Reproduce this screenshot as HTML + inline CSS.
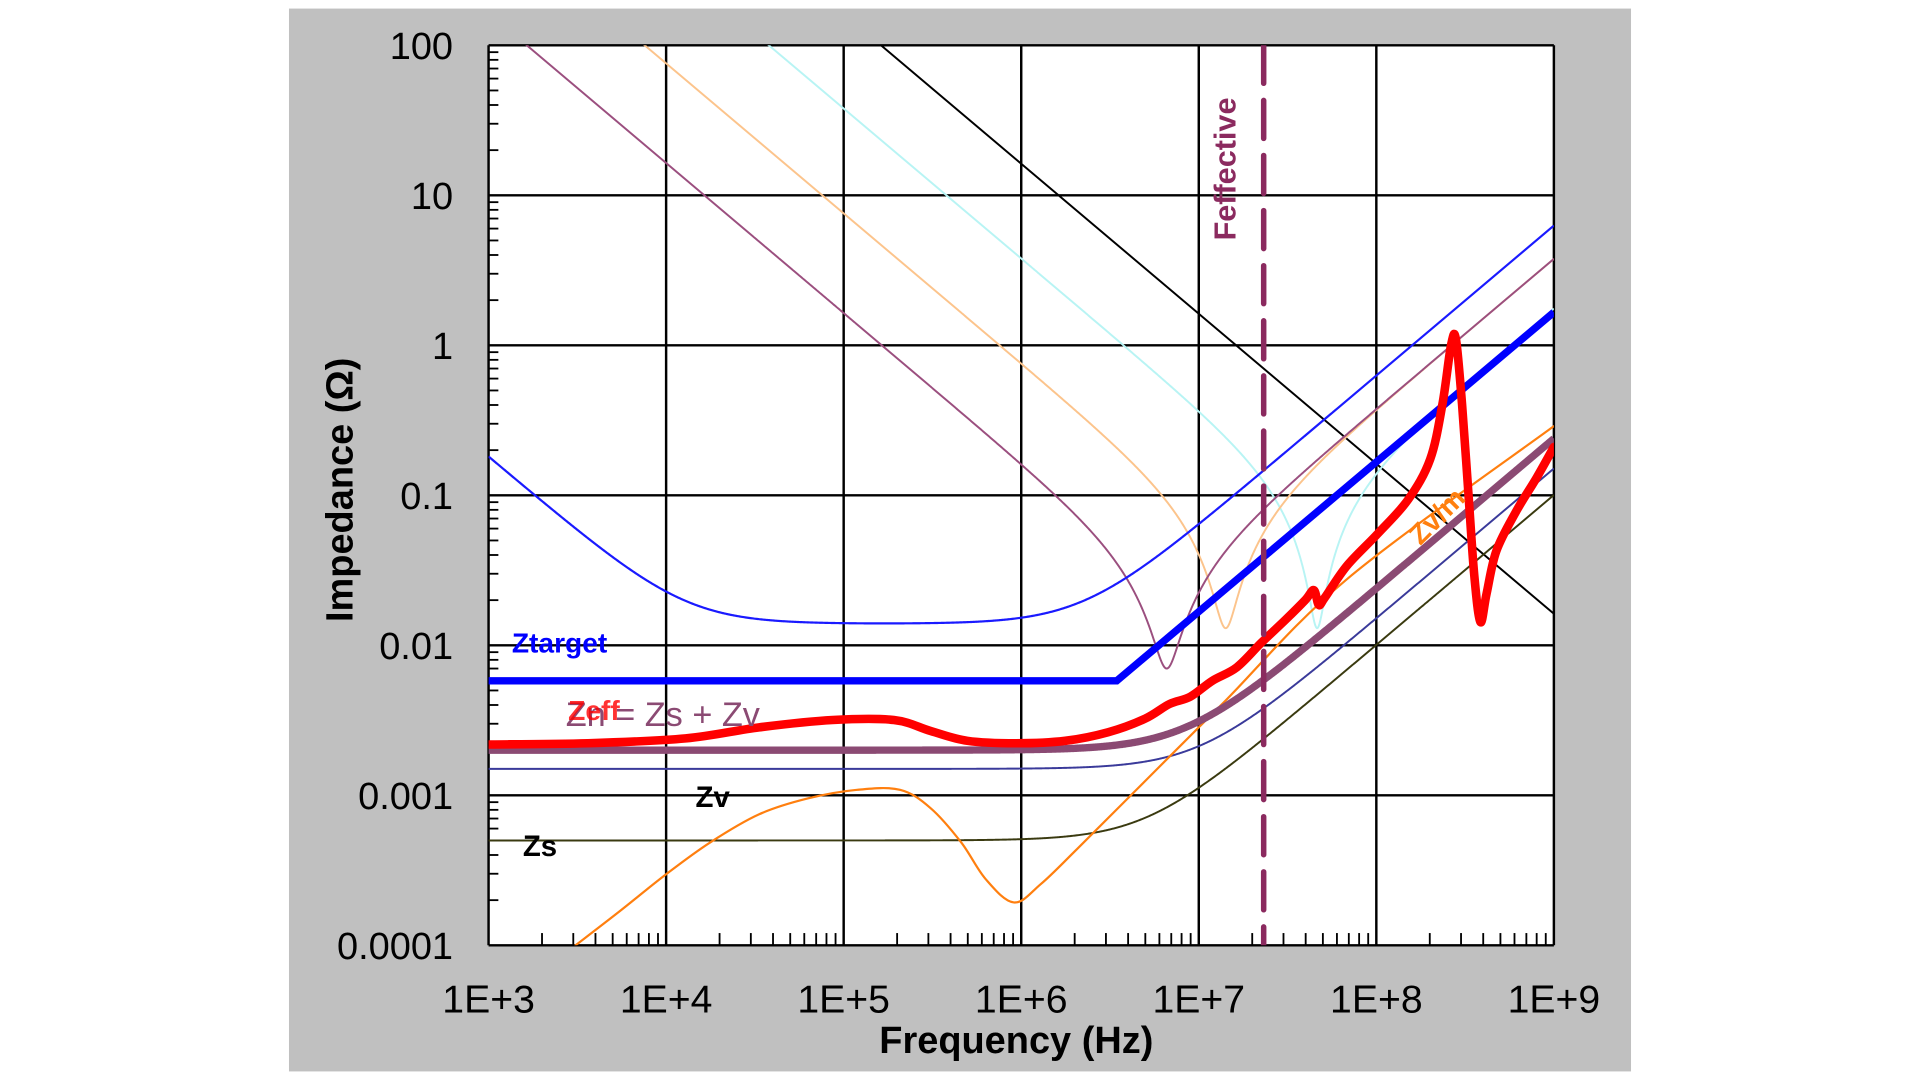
<!DOCTYPE html>
<html><head><meta charset="utf-8"><style>
html,body{margin:0;padding:0;background:#fff;width:1920px;height:1080px;overflow:hidden}
svg{display:block}
text{font-family:"Liberation Sans",Arial,sans-serif}
</style></head><body>
<svg id="s" width="1920" height="1080" viewBox="0 0 1568 882" preserveAspectRatio="none" xmlns="http://www.w3.org/2000/svg">
<rect x="0" y="0" width="1568" height="882" fill="#fff"/>
<rect x="236" y="7" width="1096" height="868" fill="#c0c0c0"/>
<rect x="399" y="37" width="870" height="735" fill="#fff"/>
<defs><clipPath id="cp"><rect x="399" y="37" width="870" height="735"/></clipPath></defs>
<g id="grid"></g>
<g id="curves" clip-path="url(#cp)"></g>
<g id="labels"></g>
</svg>
<script>
const NS="http://www.w3.org/2000/svg";
const X=f=>399+145*(Math.log10(f)-3);
const Y=z=>37+122.5*(2-Math.log10(z));
function el(p,tag,a,txt){const e=document.createElementNS(NS,tag);for(const k in a)e.setAttribute(k,a[k]);if(txt!=null)e.textContent=txt;p.appendChild(e);return e;}
const G=document.getElementById('grid'),C=document.getElementById('curves'),L=document.getElementById('labels');
for(let i=0;i<=6;i++){const x=399+145*i;el(G,'line',{x1:x,y1:37,x2:x,y2:772,stroke:'#000','stroke-width':2});
 const y=37+122.5*i;el(G,'line',{x1:399,y1:y,x2:1269,y2:y,stroke:'#000','stroke-width':2});}
for(let d=0;d<6;d++)for(let m=2;m<=9;m++){const lx=Math.log10(m);
 const x=399+145*(d+lx);el(G,'line',{x1:x,y1:772,x2:x,y2:762,stroke:'#000','stroke-width':1.5});
 const y=772-122.5*(d+lx);el(G,'line',{x1:399,y1:y,x2:407,y2:y,stroke:'#000','stroke-width':1.5});}
function fc(fn,col,w){let d='';for(let i=0;i<=1200;i++){const lf=3+6*i/1200,f=Math.pow(10,lf);const z=fn(f);d+=(i?'L':'M')+X(f).toFixed(2)+' '+Y(z).toFixed(2);}el(C,'path',{d:d,fill:'none',stroke:col,'stroke-width':w,'stroke-linejoin':'round'});}
const w=f=>2*Math.PI*f;
const rlc=(R,Cc,Ll)=>f=>Math.sqrt(R*R+Math.pow(w(f)*Ll-1/(w(f)*Cc),2));
const rl=(R,Ll)=>f=>Math.sqrt(R*R+Math.pow(w(f)*Ll,2));
function sp(pts,col,wd){let d='M'+pts[0][0]+' '+pts[0][1];for(let i=0;i<pts.length-1;i++){const p0=pts[Math.max(0,i-1)],p1=pts[i],p2=pts[i+1],p3=pts[Math.min(pts.length-1,i+2)];
 const c1=[p1[0]+(p2[0]-p0[0])/6,p1[1]+(p2[1]-p0[1])/6],c2=[p2[0]-(p3[0]-p1[0])/6,p2[1]-(p3[1]-p1[1])/6];
 d+=`C${c1[0]} ${c1[1]} ${c2[0]} ${c2[1]} ${p2[0]} ${p2[1]}`;}
 el(C,'path',{d:d,fill:'none',stroke:col,'stroke-width':wd,'stroke-linejoin':'round','stroke-linecap':'round'});}
fc(f=>1/(w(f)*9.8e-9),'#000',1.6);
fc(rlc(0.013,42e-9,0.28e-9),'#b8f4f4',1.6);
fc(rlc(0.013,0.21e-6,0.6e-9),'#fcc48c',1.6);
fc(rlc(0.007,0.97e-6,0.6e-9),'#9b4f7f',1.6);
fc(rlc(0.014,0.88e-3,1.0e-9),'#1a1aff',1.8);
el(C,'polyline',{points:'399,556 912,556 1269,255',fill:'none',stroke:'#0000ff','stroke-width':6});
fc(rl(0.0005,1.6e-11),'#3a3a10',1.6);
fc(rl(0.0015,2.4e-11),'#3a3a9a',1.6);
sp([[470,772],[505,745],[544,714],[580,688],[620,665],[660,652],[700,645],[735,645],[760,660],[785,688],[805,718],[828,737],[850,722],[880,693],[940,633],[1000,573],[1100,473],[1269,348]],'#ff7f0f',1.8);
fc(rl(0.002,3.8e-11),'#8b4a73',6);
sp([[399,608],[480,607],[560,603],[620,594],[680,588],[730,588],[760,597],[790,605],[830,607],[870,605],[905,598],[935,587],[955,575],[972,569],[990,556],[1010,545],[1030,525],[1050,506],[1066,490],[1073,482],[1077,494],[1082,488],[1100,462],[1125,436],[1150,408],[1168,375],[1178,330],[1185,282],[1189,277],[1194,330],[1199,400],[1204,470],[1209,508],[1214,485],[1222,450],[1238,418],[1255,390],[1269,365]],'#ff0000',7);
el(C,'line',{x1:1032,y1:37,x2:1032,y2:772,stroke:'#8b2a5f','stroke-width':4.5,'stroke-dasharray':'31 14','stroke-linecap':'round'});
const yl=['100','10','1','0.1','0.01','0.001','0.0001'];
yl.forEach((t,i)=>el(L,'text',{x:370,y:37+122.5*i+11,'text-anchor':'end','font-size':31,fill:'#000',textLength:i==6?106:null}.textLength?{x:370,y:37+122.5*i+11,'text-anchor':'end','font-size':31,fill:'#000'}:{x:370,y:37+122.5*i+11,'text-anchor':'end','font-size':31,fill:'#000'},t));
['1E+3','1E+4','1E+5','1E+6','1E+7','1E+8','1E+9'].forEach((t,i)=>el(L,'text',{x:399+145*i,y:827,'text-anchor':'middle','font-size':32,fill:'#000'},t));
el(L,'text',{x:830,y:860,'text-anchor':'middle','font-size':31,'font-weight':'bold',fill:'#000'},'Frequency (Hz)');
el(L,'text',{x:0,y:0,'text-anchor':'middle','font-size':31,'font-weight':'bold',fill:'#000',transform:'translate(288,400) rotate(-90)'},'Impedance (Ω)');
el(L,'text',{x:0,y:0,'text-anchor':'middle','font-size':25,'font-weight':'bold',fill:'#8b2a5f',transform:'translate(1009,138) rotate(-90)'},'Feffective');
el(L,'text',{x:0,y:0,'font-size':23,'font-weight':'bold',fill:'#ff7f0f',transform:'translate(1160,446) rotate(-45)'},'Zv/m');
el(L,'text',{x:418,y:533,'font-size':23,'font-weight':'bold',fill:'#0000ff'},'Ztarget');
el(L,'text',{x:462,y:593,'font-size':28,fill:'#8b4a73'},'Zn = Zs + Zv');
el(L,'text',{x:464,y:588,'font-size':23,'font-weight':'bold',fill:'#ff0000','opacity':0.8},'Zeff');
el(L,'text',{x:568,y:659,'font-size':24,'font-weight':'bold',fill:'#000'},'Zv');
el(L,'text',{x:427,y:699,'font-size':24,'font-weight':'bold',fill:'#000'},'Zs');
</script>
</body></html>
